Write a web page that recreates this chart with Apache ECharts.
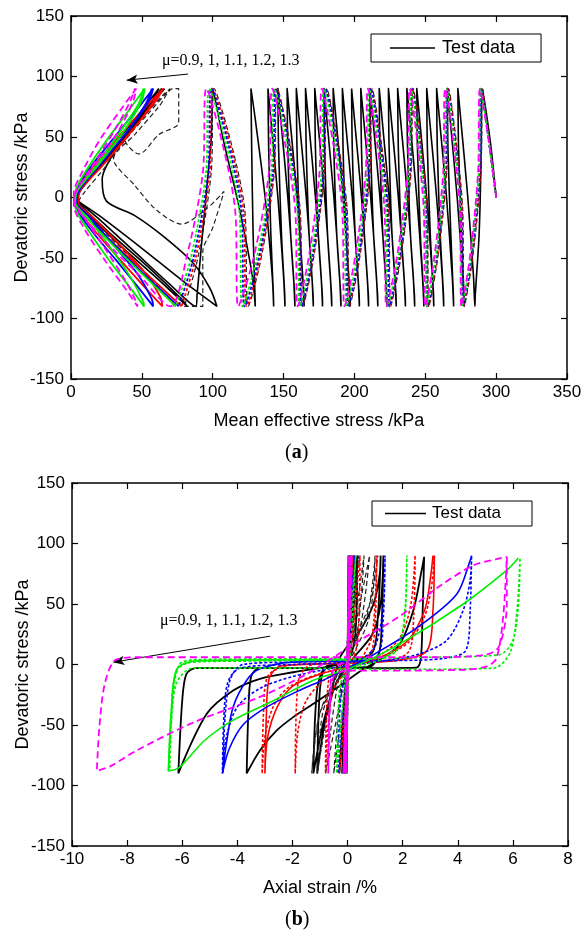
<!DOCTYPE html>
<html><head><meta charset="utf-8">
<script src="https://cdn.jsdelivr.net/npm/echarts@6.0.0/dist/echarts.min.js"></script>
<style>html,body{margin:0;padding:0;background:#fff;}#chart{width:582px;height:934px;}</style>
</head><body><div id="chart"></div>
<script>
// ---------- axis ranges / tick steps ----------
var axisA = {xMin:0, xMax:350, xStep:50, yMin:-150, yMax:150, yStep:50};
var axisB = {xMin:-10, xMax:8, xStep:2, yMin:-150, yMax:150, yStep:50};
var muLabel = 'μ=0.9, 1, 1.1, 1.2, 1.3';
var arrowA = [[82.6,102],[39.3,97]];
var arrowB = [[-2.81,23.4],[-8.5,1.9]];

// ---------- (a) stress path: p' (kPa), q (kPa), flat pairs ----------
var testA = [300,0, 296,45, 290,90,
289.5,40, 288,-30, 285.3,-80, 285,-90, 284,-65, 280,0, 275,65, 273,90,
273.5,40, 275.5,-30, 277.3,-80, 277.5,-90, 276.5,-65, 272.5,0, 267.5,65, 265.5,90,
266,40, 268,-30, 269.8,-80, 270,-90, 269,-65, 265,0, 260,65, 258,90,
258.5,40, 260.5,-30, 262.8,-80, 263,-90, 262,-65, 258,0, 253,65, 251,90,
251.5,40, 253.5,-30, 255.8,-80, 256,-90, 255,-65, 251,0, 246,65, 244,90,
244.5,40, 246.5,-30, 248.8,-80, 249,-90, 248,-65, 244,0, 239,65, 237,90,
237.5,40, 239.5,-30, 242.3,-80, 242.5,-90, 241.5,-65, 237.5,0, 232.5,65, 230.5,90,
231,40, 233,-30, 235.8,-80, 236,-90, 235,-65, 231,0, 226,65, 224,90,
224.5,40, 226.5,-30, 229.3,-80, 229.5,-90, 228.5,-65, 224.5,0, 219.5,65, 217.5,90,
218,40, 220,-30, 222.8,-80, 223,-90, 222,-65, 218,0, 213,65, 211,90,
211.5,40, 213.5,-30, 216.3,-80, 216.5,-90, 215.5,-65, 211.5,0, 206.5,65, 204.5,90,
205,40, 207,-30, 209.8,-80, 210,-90, 209,-65, 205,0, 200,65, 198,90,
198.5,40, 200.5,-30, 203.3,-80, 203.5,-90, 202.5,-65, 198.5,0, 193.5,65, 191.5,90,
192,40, 194,-30, 196.8,-80, 197,-90, 196,-65, 192,0, 187,65, 185,90,
185.5,40, 187.5,-30, 190.3,-80, 190.5,-90, 189.5,-65, 185.5,0, 180.5,65, 178.5,90,
179,40, 181,-30, 183.8,-80, 184,-90, 183,-65, 179,0, 174,65, 172,90,
172.5,40, 174.5,-30, 177.3,-80, 177.5,-90, 176.5,-65, 172.5,0, 167.5,65, 165.5,90,
166,40, 168,-30, 170.8,-80, 171,-90, 170,-65, 166,0, 161,65, 159,90,
159.5,40, 161.5,-30, 164.3,-80, 164.5,-90, 163.5,-65, 159.5,0, 154.5,65, 152.5,90,
153,40, 155,-30, 157.8,-80, 158,-90, 157,-65, 153,0, 148,65, 146,90,
146.5,40, 148.5,-30, 150.8,-80, 151,-90, 150,-65, 146,0, 141,65, 139,90,
139.5,40, 141,-30, 142.8,-80, 143,-90, 142,-65, 137,0, 130,65, 127,90,
127.5,40, 128.5,-30, 129.8,-80, 130,-90, 128,-65, 119,-10, 108,45, 101,85, 100,90,
99,50, 96,10, 92,-40, 89,-80, 88,-90,
70,-72, 45,-45, 20,-18, 6,-4, 3,0, 15,18, 35,45, 55,75, 66,90,
50,68, 32,40, 22,15, 25,-3, 45,-15, 65,-32, 86,-54, 98,-75, 103,-90,
80,-70, 50,-42, 20,-15, 5,-3, 3,0, 14,18, 34,45, 54,75, 64,90,
48,66, 26,34, 8,8, 3,0, 8,-8, 28,-30, 55,-58, 78,-84, 82,-90,
60,-66, 35,-40, 12,-14, 3,-2, 12,14, 32,42, 52,70, 62,90,
46,66, 25,36, 6,6, 2,0];

var blackDashA = [300,0, 295,45, 290.5,90, 289.2,20, 283.4,-50, 277.5,-90, 276.4,-10, 272,45, 266.5,90,
265.1,20, 258.8,-50, 252.5,-90, 251.4,-10, 247,45, 241.5,90, 239.9,20, 232.7,-50, 225.5,-90,
224.2,-10, 219,45, 212.5,90, 210.9,20, 203.7,-50, 196.5,-90, 194.9,-10, 188.5,45, 180.5,90,
178.8,20, 171.2,-50, 163.5,-90, 161.7,-10, 154.5,45, 145.5,90, 143.4,20, 134.2,-50, 125,-90,
122.6,-10, 113,45, 101,90, 98.9,20, 89.5,-50, 80,-90,
93,-90, 93,-45, 100,-25, 108,5, 95,-10, 78,-22, 60,-10, 45,10, 30,32, 45,52, 62,75, 72,90, 76,90, 76,62,
62,52, 48,36, 38,48, 52,68, 66,86, 70,90, 55,70, 40,50, 22,22, 10,5, 5,-5, 18,-22, 38,-45, 55,-65, 70,-85, 73,-90];

var redA = [300,0, 295,45, 290,90, 288.7,20, 282.9,-50, 277,-90, 275.9,-10, 271.5,45, 266,90,
264.6,20, 258.3,-50, 252,-90, 250.9,-10, 246.5,45, 241,90, 239.4,20, 232.2,-50, 225,-90,
223.7,-10, 218.5,45, 212,90, 210.4,20, 203.2,-50, 196,-90, 194.4,-10, 188,45, 180,90,
178.3,20, 170.7,-50, 163,-90, 161.2,-10, 154,45, 145,90, 142.9,20, 133.5,-50, 124,-90,
121.6,-10, 112,45, 100,90, 97.8,20, 88,-50, 78,-90];
var redSolidA = [78,-90, 55,-65, 30,-38, 10,-15, 4,-3, 8,8, 25,30, 45,58, 60,82, 65,90,
52,74, 32,48, 12,20, 5,5, 5,-4, 15,-16, 35,-40, 52,-62, 63,-82, 64.5,-90,
55,-78, 35,-52, 15,-25, 5,-8, 6,4, 22,26, 42,54, 60,80, 65,90];

var blueA = [300,0, 295,45, 289.5,90, 288.2,20, 282.4,-50, 276.5,-90, 275.4,-10, 271,45, 265.5,90,
264.1,20, 257.8,-50, 251.5,-90, 250.4,-10, 246,45, 240.5,90, 238.9,20, 231.7,-50, 224.5,-90,
223.2,-10, 218,45, 211.5,90, 209.9,20, 202.7,-50, 195.5,-90, 193.9,-10, 187.5,45, 179.5,90,
177.8,20, 170.2,-50, 162.5,-90, 160.7,-10, 153.5,45, 144.5,90, 142.3,20, 132.4,-50, 122.5,-90,
120.2,-10, 110.8,45, 99,90, 96.7,20, 86.4,-50, 76,-90];
var blueSolidA = [76,-90, 52,-64, 28,-36, 9,-14, 3,-3, 7,8, 22,29, 42,58, 55,80, 58,90,
46,72, 28,46, 10,19, 4,4, 4,-4, 13,-16, 32,-42, 48,-65, 57,-84, 58,-90,
50,-78, 32,-52, 13,-25, 4,-7, 5,4, 20,27, 40,55, 53,78, 57,90];

var greenA = [300,0, 295,45, 289,90, 287.7,20, 281.9,-50, 276,-90, 274.9,-10, 270.5,45, 265,90,
263.6,20, 257.3,-50, 251,-90, 249.9,-10, 245.5,45, 240,90, 238.4,20, 230.9,-50, 223.5,-90,
222.2,-10, 217,45, 210.5,90, 208.9,20, 201.7,-50, 194.5,-90, 192.9,-10, 186.5,45, 178.5,90,
176.8,20, 169.2,-50, 161.5,-90, 159.7,-10, 152.5,45, 143.5,90, 141.3,20, 131.1,-50, 121,-90,
118.7,-10, 109.3,45, 97.5,90, 95.2,20, 84.6,-50, 74,-90];
var greenSolidA = [74,-90, 50,-63, 26,-35, 8,-13, 2,-2, 6,8, 20,28, 38,56, 50,80, 52,90,
42,74, 25,47, 9,19, 3,4, 3,-4, 12,-17, 28,-42, 42,-66, 51,-86, 51.5,-90,
44,-78, 27,-52, 11,-25, 3,-7, 4,4, 18,27, 35,55, 48,78, 51,90];

var magentaA = [300,0, 295,45, 288.5,90, 287.2,20, 281.4,-50, 275.5,-90, 274.4,-10, 269.8,45, 264,90,
262.6,20, 256.3,-50, 250,-90, 248.9,-10, 244.5,45, 239,90, 237.4,20, 229.9,-50, 222.5,-90,
221.2,-10, 216,45, 209.5,90, 207.9,20, 200.4,-50, 193,-90, 191.4,-10, 185,45, 177,90,
175.3,20, 167.7,-50, 160,-90, 158.2,-10, 151,45, 142,90, 139.6,20, 128.8,-50, 118,-90,
115.8,-10, 106.8,45, 95.5,90, 93,20, 81.5,-50, 70,-90,
48,-64, 24,-36, 7,-13, 2,-2, 5,8, 18,28, 34,56, 44,80, 46,90, 36,74, 20,47, 7,19, 2,4,
2,-4, 10,-18, 25,-44, 38,-68, 46,-86, 47,-90, 40,-78, 24,-52, 9,-25, 2,-6, 4,6, 16,28, 31,56, 42,80, 45,90];

// ---------- (b) axial strain (%), q (kPa), flat pairs ----------
var testB = [0,0, 0.03,90, -0.03,-90, 0.05,90, -0.05,-90, 0.08,90, -0.08,-90, 0.1,90, -0.12,-90, 0.15,90,
-0.2,-90, 0.25,90, -0.3,-90, 0.35,90,
0.3,30, 0,3, -0.8,-2, -1.1,-20, -1.24,-90,
-0.9,-50, -0.6,-25, -0.27,6, 0.45,28, 0.94,50, 1.18,77, 1.2,90,
1.1,40, 0.9,10, 0,2, -0.8,-3, -1.0,-20, -1.1,-90,
-0.8,-45, -0.4,-15, 0.2,5, 0.9,25, 1.2,50, 1.3,90,
1.25,40, 1.15,10, 0.8,-2, -1,-3, -3.2,-3, -3.5,-10, -3.6,-40, -3.66,-90,
-3.18,-71, -2.57,-54.5, -1.97,-43.5, -1.24,-32.5, -0.3,-18, 0.5,-5, 1.3,6, 1.9,17, 2.39,45, 2.69,78, 2.78,89,
2.72,40, 2.66,5, 2.5,-2.5, 0,-3, -3,-3, -5.5,-3, -5.85,-8, -6.0,-30, -6.14,-90,
-5.11,-40.8, -4.15,-21.5, -3.18,-11.8, -1.97,-6.4, -0.15,0.6, 0.5,6];

var blackDashB = [0,0, 0.05,90, 0,0, -0.05,-90, 0.1,90, 0,0, -0.15,-90, 0.2,90, 0.05,10, -0.3,-90,
0.4,90, 0.1,10, -0.2,-10, -0.5,-90, 0.6,90, 0.3,20, -0.3,-10, -0.8,-90, 0.8,90, 0.4,25, -0.5,-20, -1.1,-90,
-0.9,-40, -0.3,-5, 0.7,40, 1.0,90, 0.8,40, 0,0, -1.0,-40, -1.3,-90, -1.0,-40, -0.2,0, 0.8,50, 1.1,90];

var redB = [0,0, 0.05,90, -0.05,-90, 0.1,90, -0.12,-90, 0.2,90, -0.3,-90, 0.45,90,
0.4,30, 0.2,5, -0.4,-2, -0.7,-15, -0.8,-90,
-0.7,-50, -0.5,-20, 0,-5, 0.5,5, 0.9,25, 1.06,90,
1.0,35, 0.8,8, 0,2, -1.4,-1, -1.8,-15, -1.9,-90,
-1.8,-55, -1.5,-30, -0.8,-12, 0.2,-2, 1.2,8, 1.9,22, 2.3,50, 2.45,90,
2.4,40, 2.2,10, 1.2,3, -2.2,-1, -2.9,-10, -3.05,-40, -3.1,-90,
-3.0,-60, -2.7,-35, -2.2,-20, -1.2,-9, 0,-2, 1.2,6, 2.2,18, 2.8,40, 3.05,65, 3.15,90];
var redSolidB = [3.15,90, 3.1,45, 2.9,12, 2,4, 0,1, -2.4,-1, -2.85,-12, -2.95,-45, -3.0,-90,
-2.9,-60, -2.55,-35, -2.0,-18, -1.0,-8, 0,-2, 1.2,6, 2.2,20, 2.8,45, 3.0,70, 3.1,90];

var blueB = [0,0, 0.05,90, -0.05,-90, 0.1,90, -0.15,-90, 0.25,90, -0.35,-90,
-0.3,-45, -0.1,-10, 0.4,2, 1.0,15, 1.3,50, 1.36,90,
1.3,40, 1.1,8, 0.2,2, -2,0, -3.9,-3, -4.35,-15, -4.5,-50, -4.54,-90,
-4.4,-60, -4.0,-35, -3.2,-20, -2,-10, -0.5,-3, 1,2, 2.5,8, 3.6,20, 4.2,45, 4.45,70, 4.5,90,
4.45,45, 4.3,12, 3.5,5, 1,3, -2,2, -3.8,0, -4.25,-12, -4.45,-45, -4.52,-90];
var blueSolidB = [0.5,3, -2,2, -3.18,-3.6, -3.66,-13, -4.15,-35, -4.38,-63, -4.54,-90,
-4.3,-70, -3.8,-50, -3.0,-36, -1.8,-22, -0.6,-10, 0.7,5, 2.5,30, 3.96,58, 4.45,86, 4.5,90];

var greenB = [0,0, 0.05,90, -0.05,-90, 0.1,90, -0.15,-90, 0.3,90, -0.4,-90,
-0.35,-45, -0.2,-12, 0.4,-2, 1.3,5, 1.9,20, 2.1,50, 2.15,90,
2.1,45, 1.8,12, 1,5, -3,3, -5.6,2, -6.2,-5, -6.4,-40, -6.5,-88,
-6.4,-50, -6.2,-15, -5.6,-3, -2,-3, 2,-4, 5.3,-3, 5.9,10, 6.15,45, 6.26,88,
6.2,50, 6.0,20, 5.5,8, 3,6, 0,5, -5.5,4, -6.1,0, -6.35,-30, -6.45,-88];
var greenSolidB = [0,4, -5.5,3, -6.2,-4, -6.4,-40, -6.5,-88,
-6.1,-85, -5.2,-63, -4.15,-46, -2.7,-30, -1.24,-13, 0.2,-2, 1.9,17, 4.2,50, 5.78,78, 6.2,88];

var magentaB = [0,0, 0.05,90, -0.05,-90, 0.1,90, -0.08,-90, 0.08,90, -0.1,-90, 0.12,90, -0.12,-90,
0.1,90, -0.15,-90, 0.15,90, 0.05,5, -0.5,-3, -0.65,-30, -0.7,-90,
-0.65,-40, -0.5,-10, 0,-5, 2,-5, 4,-4.5, 5,-2, 5.4,5, 5.65,40, 5.78,89,
5.78,50, 5.5,15, 5,8, 3,6, 0,6, -4,6, -7.5,6, -8.4,4, -8.8,-15, -9.0,-50, -9.1,-88,
-8.6,-84, -7.65,-71, -5.6,-48, -3.2,-27, -1.5,-8, 0.45,20, 1.9,40, 3.36,65, 4.57,82, 5.4,87, 5.78,89];

// ---------- build ----------
function P(a){var r=[];for(var i=0;i<a.length;i+=2){r.push([a[i],a[i+1]]);}return r;}
var SANS='"Liberation Sans", Arial, sans-serif';
var SERIF='"Liberation Serif", "Times New Roman", serif';
var RED='#ff0000', BLUE='#0000ff', GREEN='#00ee00', MAG='#ff00ff', BLK='#000000';
var DOT=[3,2], DASH=[7,4], BDASH=[5,3];

function xAx(gi, ax, pos, name){
  return {gridIndex:gi, type:'value', position:pos, min:ax.xMin, max:ax.xMax, interval:ax.xStep,
    name: name||'', nameLocation:'middle', nameGap:33, nameMoveOverlap:false,
    nameTextStyle:{fontSize:18, color:'#000', fontFamily:SANS},
    axisLine:{show:true, onZero:false, lineStyle:{color:'#000', width:1.5}},
    axisTick:{show:true, inside:true, length:6, lineStyle:{color:'#000', width:1.2}},
    axisLabel:{show: pos==='bottom', fontSize:17, color:'#000', fontFamily:SANS, margin:5},
    splitLine:{show:false}};
}
function yAx(gi, ax, pos, name){
  return {gridIndex:gi, type:'value', position:pos, min:ax.yMin, max:ax.yMax, interval:ax.yStep,
    name: name||'', nameLocation:'middle', nameGap:40, nameRotate:90, nameMoveOverlap:false,
    nameTextStyle:{fontSize:18, color:'#000', fontFamily:SANS},
    axisLine:{show:true, onZero:false, lineStyle:{color:'#000', width:1.5}},
    axisTick:{show:true, inside:true, length:6, lineStyle:{color:'#000', width:1.2}},
    axisLabel:{show: pos==='left', fontSize:17, color:'#000', fontFamily:SANS, margin:7},
    splitLine:{show:false}};
}
function S(name, arr, gi, color, width, type, z, smooth){
  var ai = gi===0 ? 0 : 2;
  return {type:'line', name:name, data:P(arr), xAxisIndex:ai, yAxisIndex:ai,
    showSymbol:false, symbol:'none', smooth: smooth===undefined?0.3:smooth, z:z||2,
    lineStyle:{color:color, width:width, type:type}, itemStyle:{color:color},
    silent:true, animation:false, clip:true};
}
function arrow(gi, pts){
  var ai = gi===0 ? 0 : 2;
  return {type:'line', name:'arrow'+gi, data:[], xAxisIndex:ai, yAxisIndex:ai, silent:true, z:10,
    markLine:{silent:true, animation:false, symbol:['none','arrow'], symbolSize:[7,11],
      lineStyle:{color:'#000', width:1, type:'solid'}, itemStyle:{color:'#000'}, label:{show:false},
      data:[[{coord:pts[0]},{coord:pts[1]}]]}};
}

var series = [
  S('Test data', testA, 0, BLK, 1.6, 'solid', 2, 0.3),
  S('mu0.9a', blackDashA, 0, '#222', 1.2, BDASH, 3),
  S('mu1.0a', redA, 0, RED, 1.8, DOT, 4),
  S('mu1.0as', redSolidA, 0, RED, 1.8, 'solid', 4),
  S('mu1.1a', blueA, 0, BLUE, 1.8, DOT, 5),
  S('mu1.1as', blueSolidA, 0, BLUE, 1.8, 'solid', 5),
  S('mu1.2a', greenA, 0, GREEN, 1.8, DOT, 6),
  S('mu1.2as', greenSolidA, 0, GREEN, 1.8, 'solid', 6),
  S('mu1.3a', magentaA, 0, MAG, 1.8, DASH, 7),
  S('Test data', testB, 1, BLK, 1.8, 'solid', 2, 0.3),
  S('mu0.9b', blackDashB, 1, '#222', 1.2, BDASH, 3),
  S('mu1.0b', redB, 1, RED, 1.6, DOT, 4),
  S('mu1.0bs', redSolidB, 1, RED, 1.6, 'solid', 4),
  S('mu1.1b', blueB, 1, BLUE, 1.6, DOT, 5),
  S('mu1.1bs', blueSolidB, 1, BLUE, 1.6, 'solid', 5),
  S('mu1.2b', greenB, 1, GREEN, 1.6, DOT, 6),
  S('mu1.2bs', greenSolidB, 1, GREEN, 1.6, 'solid', 6),
  S('mu1.3b', magentaB, 1, MAG, 1.8, DASH, 7),
  arrow(0, arrowA),
  arrow(1, arrowB)
];

var legendBase = {data:[{name:'Test data', icon:'rect'}], selectedMode:false, orient:'horizontal',
  borderColor:'#000', borderWidth:1, backgroundColor:'#fff', itemHeight:1.6};

var option = {
  animation:false,
  backgroundColor:'#fff',
  textStyle:{fontFamily:SANS},
  grid:[
    {left:71, top:16, width:496, height:363, show:false, containLabel:false, outerBoundsMode:'none'},
    {left:72, top:483, width:496, height:363, show:false, containLabel:false, outerBoundsMode:'none'}
  ],
  xAxis:[ xAx(0, axisA, 'bottom', 'Mean effective stress /kPa'), xAx(0, axisA, 'top'),
          xAx(1, axisB, 'bottom', 'Axial strain /%'), xAx(1, axisB, 'top') ],
  yAxis:[ yAx(0, axisA, 'left', 'Devatoric stress /kPa'), yAx(0, axisA, 'right'),
          yAx(1, axisB, 'left', 'Devatoric stress /kPa'), yAx(1, axisB, 'right') ],
  legend:[
    Object.assign({}, legendBase, {left:371, top:34, padding:[5,26,5,19], itemWidth:45, itemGap:7,
      textStyle:{fontSize:18, color:'#000', fontFamily:SANS, padding:[0,0,0,2]}}),
    Object.assign({}, legendBase, {left:372, top:501, padding:[4,31,4,13], itemWidth:41, itemGap:5,
      textStyle:{fontSize:17, color:'#000', fontFamily:SANS, padding:[0,0,0,1]}})
  ],
  graphic:[
    {type:'text', left:162, top:53, silent:true, style:{text:muLabel, font:'16px '+SERIF, fill:'#000'}},
    {type:'text', left:160, top:613, silent:true, style:{text:muLabel, font:'16px '+SERIF, fill:'#000'}},
    {type:'text', left:285, top:443, silent:true, style:{text:'{n|(}{b|a}{n|)}',
      rich:{n:{fontFamily:SERIF, fontSize:20, fill:'#000'}, b:{fontFamily:SERIF, fontSize:20, fontWeight:'bold', fill:'#000'}}}},
    {type:'text', left:285, top:910, silent:true, style:{text:'{n|(}{b|b}{n|)}',
      rich:{n:{fontFamily:SERIF, fontSize:20, fill:'#000'}, b:{fontFamily:SERIF, fontSize:20, fontWeight:'bold', fill:'#000'}}}}
  ],
  series: series
};
var chart = echarts.init(document.getElementById('chart'), null, {renderer:'canvas'});
chart.setOption(option);
</script></body></html>
